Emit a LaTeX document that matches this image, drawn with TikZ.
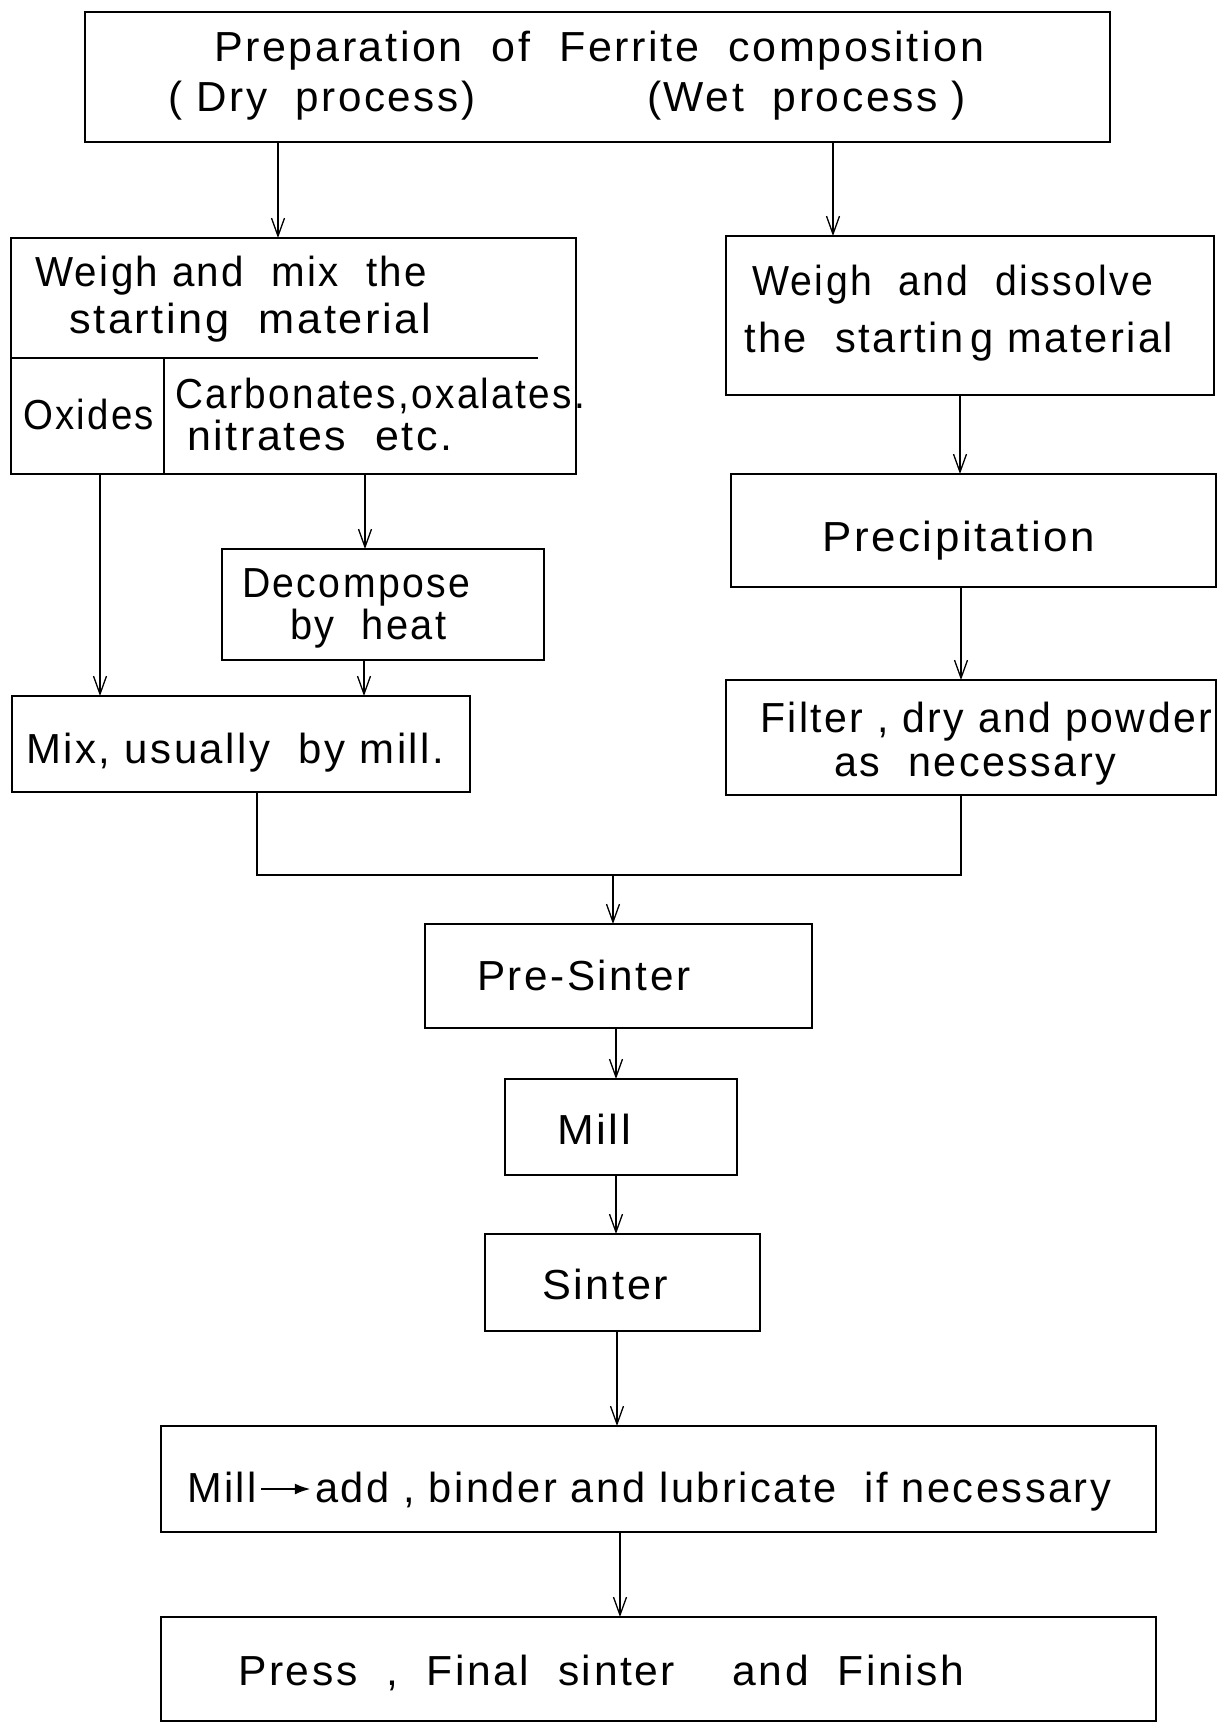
\documentclass[tikz,border=0pt]{standalone}
\usepackage{fontspec}
\usepackage{graphicx}
\setmainfont{Liberation Sans}[LetterSpace=6]
\usetikzlibrary{arrows.meta}
\newcommand{\fw}[2]{\resizebox{#1}{\height}{#2}}
\newcommand{\millarrow}{\kern3pt\tikz[baseline=0pt]{\draw[line width=2.6pt,-{Latex[length=16pt,width=11pt]}] (0pt,13pt) -- (50pt,13pt);}\kern3pt}
\begin{document}
\begin{tikzpicture}[x=1pt,y=-1pt,
  box/.style={draw, line width=2.4pt, inner sep=0pt, outer sep=0pt},
  lbl/.style={anchor=base west, inner sep=0pt, font=\fontsize{42pt}{50pt}\selectfont},
  conn/.style={line width=1.3pt},
  arr/.style={conn, -{Straight Barb[length=18pt,width=13pt,line width=1.3pt]}}
]
\useasboundingbox (0,0) rectangle (1219,1725);
% boxes
\node[box, minimum width=1025pt, minimum height=130pt] (top) at (597.5,77) {};
\node[box, minimum width=565pt, minimum height=236pt] (wmix) at (293.5,356) {};
\node[box, minimum width=488pt, minimum height=159pt] (wdis) at (970,315.5) {};
\node[box, minimum width=485pt, minimum height=113pt] (prec) at (973.5,530.5) {};
\node[box, minimum width=490pt, minimum height=115pt] (filt) at (971,737.5) {};
\node[box, minimum width=322pt, minimum height=111pt] (deco) at (383,604.5) {};
\node[box, minimum width=458pt, minimum height=96pt] (mix) at (241,744) {};
\node[box, minimum width=387pt, minimum height=104pt] (pres) at (618.5,976) {};
\node[box, minimum width=232pt, minimum height=96pt] (mill) at (621,1127) {};
\node[box, minimum width=275pt, minimum height=97pt] (sint) at (622.5,1282.5) {};
\node[box, minimum width=995pt, minimum height=106pt] (madd) at (658.5,1479) {};
\node[box, minimum width=995pt, minimum height=104pt] (press) at (658.5,1669) {};
% dividers inside the dry-process box
\coordinate (hd1) at (11,358);
\coordinate (hd2) at (538,358);
\draw[line width=2.2pt] (hd1) -- (hd2);
\draw[line width=1.3pt] (164,358) -- (wmix.south -| 164,0);
% texts
\node[lbl] (t1) at (214,61) {\fw{770pt}{Preparation\ \ of\ \ Ferrite\ \ composition}};
\node[lbl] (t2) at (168,111) {\fw{307pt}{( Dry\ \ process)}};
\node[lbl] (t3) at (647,111) {\fw{319pt}{(Wet\ \ process )}};
\node[lbl] (t4) at (35,286) {\fw{392pt}{Weigh and\ \ mix\ \ the}};
\node[lbl] (t5) at (69,333) {\fw{362pt}{starting\ \ material}};
\node[lbl] (t6) at (23,429) {\fw{131pt}{Oxides}};
\node[lbl] (t7) at (175,408) {\fw{410pt}{Carbonates,oxalates.}};
\node[lbl] (t8) at (187,450) {\fw{265pt}{nitrates\ \ etc.}};
\node[lbl] (t9) at (752,295) {\fw{401pt}{Weigh\ \ and\ \ dissolve}};
\node[lbl] (t10) at (744,352) {\fw{429pt}{the\ \ startin\kern7pt g material}};
\node[lbl] (t11) at (822,551) {\fw{273pt}{Precipitation}};
\node[lbl] (t12) at (242,597) {\fw{228pt}{Decompose}};
\node[lbl] (t13) at (290,639) {\fw{156pt}{by\ \ heat}};
\node[lbl] (t14) at (26,763) {\fw{418pt}{Mix,\ usually\ \ by mill.}};
\node[lbl] (t15) at (760,732) {\fw{452pt}{Filter , dry\ and powder}};
\node[lbl] (t16) at (834,776) {\fw{282pt}{as\ \ necessary}};
\node[lbl] (t17) at (477,990) {\fw{213pt}{Pre-Sinter}};
\node[lbl] (t18) at (557,1144) {\fw{74pt}{Mill}};
\node[lbl] (t19) at (542,1299) {\fw{126pt}{Sinter}};
\node[lbl] (t20) at (187,1502) {\fw{924pt}{Mill\millarrow add , binder\ and\ lubricate\ \ if necessary}};
\node[lbl] (t21) at (238,1685) {\fw{726pt}{Press\ \ ,\ \ Final\ \ sinter\ \ \ \ and\ \ Finish}};
% connectors
\draw[arr] (top.south -| 278,0) -- (wmix.north -| 278,0);
\draw[arr] (top.south -| 833,0) -- (wdis.north -| 833,0);
\draw[arr] (wmix.south -| 100,0) -- (mix.north -| 100,0);
\draw[arr] (wmix.south -| 365,0) -- (deco.north -| 365,0);
\draw[arr] (deco.south -| 364,0) -- (mix.north -| 364,0);
\draw[arr] (wdis.south -| 960,0) -- (prec.north -| 960,0);
\draw[arr] (prec.south -| 961,0) -- (filt.north -| 961,0);
\coordinate (j) at (613,875);
\draw[conn] (mix.south -| 257,0) |- (j) -| (filt.south -| 961,0);
\draw[arr] (j) -- (pres.north -| j);
\draw[arr] (pres.south -| 616,0) -- (mill.north -| 616,0);
\draw[arr] (mill.south -| 616,0) -- (sint.north -| 616,0);
\draw[arr] (sint.south -| 617,0) -- (madd.north -| 617,0);
\draw[arr] (madd.south -| 620,0) -- (press.north -| 620,0);
\end{tikzpicture}
\end{document}
